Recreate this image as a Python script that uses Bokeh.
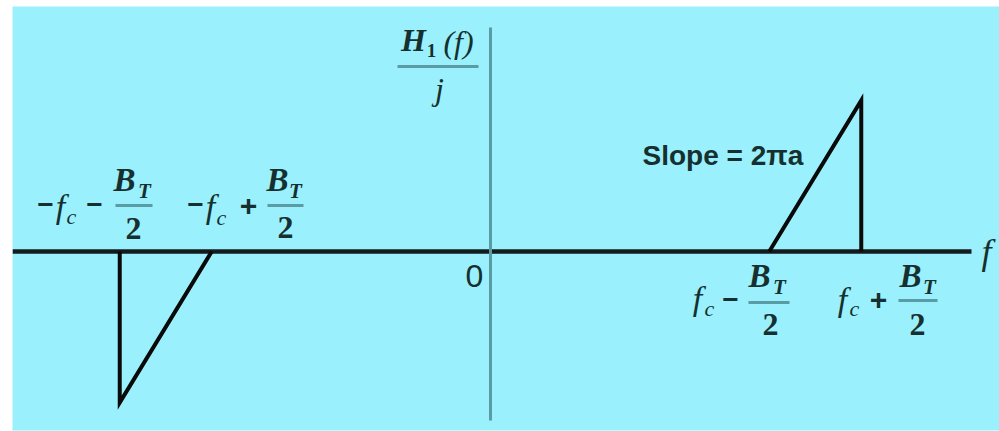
from bokeh.plotting import figure
from bokeh.embed import file_html
from bokeh.resources import INLINE
from bokeh.core.properties import value

# Band-pass filter response H1(f)/j, frequencies in units of B_T
fc = 3.53          # carrier frequency
BT = 1.0           # transmission bandwidth
peak = 1.0         # 2*pi*a*B_T, normalised height of the ramp

# positive-frequency ramp: rises from fc - BT/2 to fc + BT/2, then drops to zero
f_pos = [fc - BT / 2, fc + BT / 2, fc + BT / 2]
h_pos = [0.0, peak, 0.0]
# negative-frequency mirror (odd symmetry)
f_neg = [-fc + BT / 2, -fc - BT / 2, -fc - BT / 2]
h_neg = [0.0, -peak, 0.0]

W, H = 999, 431
LEFT, TOP, BOTTOM = 12, 6, 1
X0_PX, Y0_PX = 490.0, 251.0     # pixel location of the origin
SX, SY = 92.0, 151.0             # pixels per unit

x_start = (LEFT - X0_PX) / SX
x_end = (W - X0_PX) / SX
y_start = (Y0_PX - (H - BOTTOM)) / SY
y_end = (Y0_PX - TOP) / SY


def X(px):
    return (px - X0_PX) / SX


def Y(py):
    return (Y0_PX - py) / SY


p = figure(width=W, height=H, x_range=(x_start, x_end), y_range=(y_start, y_end),
           output_backend="svg", toolbar_location=None,
           x_axis_location=None, y_axis_location=None,
           min_border_left=LEFT, min_border_right=0,
           min_border_top=TOP, min_border_bottom=BOTTOM)
p.background_fill_color = "#9af0fc"
p.border_fill_color = "white"
p.outline_line_color = None
p.xgrid.visible = False
p.ygrid.visible = False

INK = "#15302f"
AXIS_GREY = "#5a9ca4"

# coordinate axes
p.line([x_start, X(971)], [0, 0], line_color="#141c1e", line_width=4.5)
p.line([0, 0], [Y(420), Y(27)], line_color=AXIS_GREY, line_width=3)

# response
p.line(f_pos, h_pos, line_color="#0a0a0a", line_width=4, line_join="miter")
p.line(f_neg, h_neg, line_color="#0a0a0a", line_width=4, line_join="miter")


def put(txt, px, py, size, style="italic", font="Liberation Serif", align="center"):
    p.text(x=[X(px)], y=[Y(py)], text=[txt], text_font=value(font),
           text_font_size=f"{size}px", text_font_style=style,
           text_align=align, text_baseline="middle", text_color=INK)


def bar(px1, px2, py, w=3):
    p.line([X(px1), X(px2)], [Y(py), Y(py)], line_color=AXIS_GREY, line_width=w)


SANS = "Liberation Sans"

# -fc - BT/2
put("\u2212", 45, 204, 28, "bold", SANS)
put("f", 60, 206, 34)
put("c", 71, 216, 22)
put("\u2212", 94, 204, 28, "bold", SANS)
bar(115, 152, 205)
put("B", 124, 179, 33, "bold italic")
put("T", 144, 190, 21, "bold italic")
put("2", 133, 228, 32, "bold")

# -fc + BT/2
put("\u2212", 195, 204, 28, "bold", SANS)
put("f", 210, 206, 34)
put("c", 221, 217, 22)
put("+", 248, 205, 30, "bold", SANS)
bar(267, 303, 205)
put("B", 277, 179, 33, "bold italic")
put("T", 295, 190, 21, "bold italic")
put("2", 285, 227, 32, "bold")

# fc - BT/2
put("f", 697, 298, 34)
put("c", 709, 308, 22)
put("\u2212", 730, 299, 28, "bold", SANS)
bar(748, 789, 302)
put("B", 759, 275, 33, "bold italic")
put("T", 779, 286, 21, "bold italic")
put("2", 770, 324, 32, "bold")

# fc + BT/2
put("f", 842, 299, 34)
put("c", 854, 308, 22)
put("+", 878, 299, 30, "bold", SANS)
bar(898, 937, 300)
put("B", 910, 275, 33, "bold italic")
put("T", 929, 286, 21, "bold italic")
put("2", 917, 324, 32, "bold")

# origin and axis names
put("0", 474, 275, 32, "normal", SANS)
put("f", 986, 251, 36)
put("H", 413, 39, 32, "bold italic")
put("1", 431, 50, 19, "bold")
put("(f)", 458, 41, 32)
bar(397, 478, 66, 3)
put("j", 439, 88, 32)

# slope annotation
put("Slope = 2\u03c0a", 642, 155, 28, "bold", SANS, align="left")

open("out.html", "w").write(file_html(p, INLINE))
